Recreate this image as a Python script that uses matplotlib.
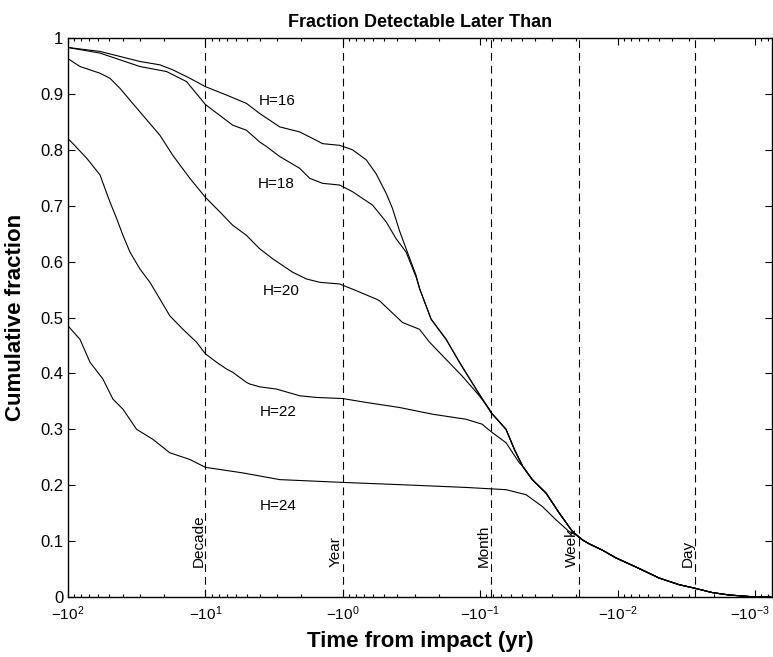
import numpy as np
import matplotlib.pyplot as plt
import matplotlib.transforms as mtransforms
from matplotlib.ticker import FixedLocator, LogLocator, NullFormatter

plt.rcParams.update({
    "font.family": ["Liberation Sans", "DejaVu Sans"],
    "mathtext.default": "regular",
    "font.size": 12,
})

# ---------------------------------------------------------
# DATA  (log10 of years before impact, cumulative fraction)
# ---------------------------------------------------------

tail_lt = [-0.56, -0.643, -0.752, -0.849, -0.97, -1.079, -1.188, -1.249,
           -1.309, -1.379, -1.479, -1.576, -1.672, -1.745, -1.794, -1.888,
           -1.988, -2.157, -2.302, -2.448, -2.557, -2.688, -2.811, -2.978,
           -3.116]
tail_frac = [0.551, 0.497, 0.461, 0.420, 0.372, 0.330, 0.300, 0.264,
             0.234, 0.210, 0.186, 0.150, 0.117, 0.102, 0.095, 0.084,
             0.070, 0.051, 0.034, 0.022, 0.016, 0.008, 0.0036, 0.0005,
             0.0]

h16_lt = [2.0, 1.767, 1.622, 1.477, 1.331, 1.237, 1.113, 1.0, 0.847, 0.701,
          0.605, 0.459, 0.314, 0.193, 0.147, 0.023, -0.071, -0.171, -0.243,
          -0.316, -0.362, -0.413, -0.461, -0.534]
h16_frac = [0.983, 0.976, 0.967, 0.958, 0.952, 0.943, 0.928, 0.913, 0.898,
            0.883, 0.865, 0.841, 0.832, 0.817, 0.811, 0.808, 0.800, 0.782,
            0.757, 0.722, 0.695, 0.655, 0.623, 0.575]

h18_lt = [2.0, 1.767, 1.622, 1.477, 1.283, 1.137, 1.0, 0.801, 0.701, 0.605,
          0.556, 0.459, 0.314, 0.241, 0.147, 0.023, -0.071, -0.217, -0.316,
          -0.388, -0.461, -0.534]
h18_frac = [0.983, 0.973, 0.961, 0.949, 0.940, 0.922, 0.881, 0.844, 0.835,
            0.814, 0.806, 0.788, 0.767, 0.749, 0.740, 0.737, 0.725, 0.701,
            0.671, 0.641, 0.617, 0.572]

h20_lt = [2.0, 1.913, 1.767, 1.695, 1.622, 1.477, 1.331, 1.237, 1.113, 1.0,
          0.895, 0.801, 0.701, 0.605, 0.51, 0.365, 0.265, 0.169, 0.023,
          -0.098, -0.243, -0.267, -0.435, -0.558, -0.631, -0.752, -0.87,
          -0.994, -1.067]
h20_frac = [0.963, 0.949, 0.937, 0.928, 0.910, 0.868, 0.826, 0.790, 0.749,
            0.715, 0.689, 0.665, 0.647, 0.623, 0.605, 0.581, 0.569, 0.563,
            0.560, 0.548, 0.533, 0.530, 0.491, 0.479, 0.456, 0.425, 0.395,
            0.360, 0.336]

h22_lt = [2.0, 1.964, 1.864, 1.767, 1.70, 1.646, 1.60, 1.549, 1.477, 1.404,
          1.331, 1.259, 1.164, 1.065, 1.0, 0.919, 0.847, 0.801, 0.701, 0.677,
          0.605, 0.483, 0.314, 0.193, 0.0, -0.171, -0.413, -0.653, -0.897,
          -1.016, -1.043, -1.089, -1.188, -1.285]
h22_frac = [0.820, 0.811, 0.785, 0.755, 0.710, 0.677, 0.647, 0.617, 0.587,
            0.563, 0.533, 0.503, 0.479, 0.456, 0.435, 0.420, 0.408, 0.402,
            0.384, 0.381, 0.376, 0.372, 0.360, 0.357, 0.355, 0.348, 0.339,
            0.327, 0.318, 0.309, 0.303, 0.294, 0.276, 0.240]

h24_lt = [2.0, 1.913, 1.84, 1.746, 1.673, 1.60, 1.501, 1.382, 1.259, 1.113,
          1.0, 0.728, 0.459, 0.0, -0.413, -0.897, -1.188, -1.334, -1.452,
          -1.552, -1.648, -1.697]
h24_frac = [0.485, 0.461, 0.420, 0.390, 0.354, 0.336, 0.300, 0.282, 0.258,
            0.246, 0.232, 0.222, 0.210, 0.205, 0.201, 0.196, 0.192, 0.183,
            0.162, 0.138, 0.117, 0.111]

curve_names = ["H=16", "H=18", "H=20", "H=22", "H=24"]
curve_lt = [h16_lt, h18_lt, h20_lt, h22_lt, h24_lt]
curve_frac = [h16_frac, h18_frac, h20_frac, h22_frac, h24_frac]

# label positions (log10 yr, fraction)
label_lt = [0.474, 0.483, 0.447, 0.467, 0.467]
label_frac = [0.887, 0.738, 0.548, 0.331, 0.162]

# reference times (yr)
ref_names = ["Decade", "Year", "Month", "Week", "Day"]
ref_years = [10.0, 1.0, 1 / 12, 1 / 52, 1 / 365]

xtick_exp = [2, 1, 0, -1, -2, -3]

# ---------------------------------------------------------
# FIGURE
# ---------------------------------------------------------

fig = plt.figure(figsize=(7.73, 6.57), dpi=100)
ax = fig.add_axes([68 / 773, 1 - 597 / 657, 704 / 773, 559 / 657])

for lt, fr in zip(curve_lt, curve_frac):
    lt = np.asarray(lt)
    fr = np.asarray(fr)
    t_lt = np.asarray(tail_lt)
    keep = t_lt < lt[-1] - 0.01
    x = 10 ** np.concatenate([lt, t_lt[keep]])
    y = np.concatenate([fr, np.asarray(tail_frac)[keep]])
    ax.plot(x, y, color="black", lw=0.8)

for name, lt, fr in zip(curve_names, label_lt, label_frac):
    ax.text(10 ** lt, fr, name, ha="center", va="center", fontsize=11)

for name, yr in zip(ref_names, ref_years):
    ax.axvline(yr, color="black", lw=0.8, ls=(0, (7, 4.5)))
    ax.text(yr, 0.054, name, rotation=90, ha="right", va="bottom",
            fontsize=11)

ax.set_xscale("log")
ax.set_xlim(100, 10 ** -3.124)
ax.set_ylim(0, 1)

ax.xaxis.set_major_locator(FixedLocator([10.0 ** e for e in xtick_exp]))
ax.set_xticklabels([f"\u2212$10^{{{e}}}$" for e in xtick_exp])
ax.xaxis.set_minor_locator(LogLocator(base=10, subs=np.arange(2, 10)))
ax.xaxis.set_minor_formatter(NullFormatter())

yt = np.round(np.arange(0, 1.01, 0.1), 1)
ax.set_yticks(yt)
ax.set_yticklabels(["0" if v == 0 else ("1" if v == 1 else f"{v:.1f}")
                    for v in yt])

ax.tick_params(which="both", direction="in", top=True, right=True)
ax.tick_params(which="major", length=5, width=0.8)
ax.tick_params(which="minor", length=2.5, width=0.8)
ax.tick_params(axis="x", pad=5, labelsize=11)
for s in ax.spines.values():
    s.set_linewidth(1.0)

# keep the last x label inside the figure
last = ax.get_xticklabels()[-1]
last.set_transform(last.get_transform() + mtransforms.ScaledTranslation(
    -5 / 100, 0, fig.dpi_scale_trans))

ax.set_title("Fraction Detectable Later Than", fontsize=13,
             fontweight="bold", pad=8)
ax.set_xlabel("Time from impact (yr)", fontsize=16, fontweight="bold",
              labelpad=6)
ax.set_ylabel("Cumulative fraction", fontsize=16, fontweight="bold",
              labelpad=10)

fig.savefig("out.png", dpi=100)
